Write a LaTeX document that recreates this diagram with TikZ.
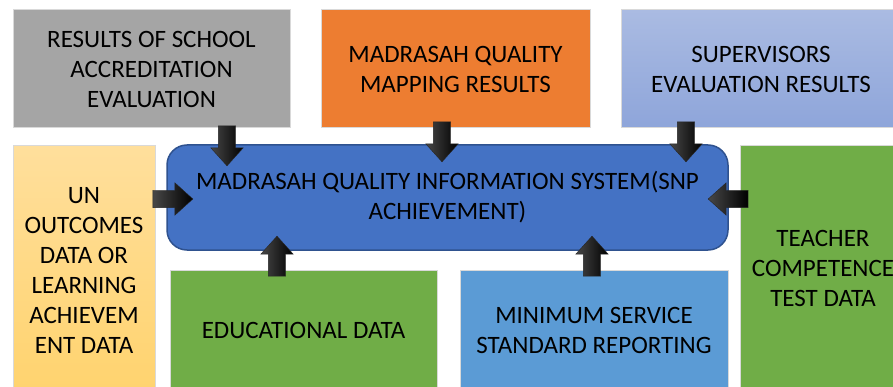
\documentclass[tikz,border=0pt]{standalone}
\usepackage{fontspec}
\setmainfont{Carlito}
\usetikzlibrary{shapes.arrows}
\definecolor{accgray}{HTML}{A5A5A5}
\definecolor{accorange}{HTML}{ED7D31}
\definecolor{supvtop}{HTML}{AABBE2}
\definecolor{supvbot}{HTML}{8EA5DA}
\definecolor{unoutop}{HTML}{FFDF9C}
\definecolor{unoubot}{HTML}{FFD36E}
\definecolor{sysblue}{HTML}{4472C4}
\definecolor{sysedge}{HTML}{2F528F}
\definecolor{accgreen}{HTML}{70AD47}
\definecolor{msblue}{HTML}{5B9BD5}
\begin{document}
\begin{tikzpicture}[x=1pt,y=-1pt,
  box/.style={rectangle, draw=black!15, line width=1, align=center, inner sep=0,
    font=\fontsize{25}{30}\selectfont},
  blockarrow/.style={single arrow, minimum height=40, minimum width=32,
    text height=8.5, text depth=8.5, text width=0,
    single arrow head extend=7.5, single arrow tip angle=84, inner sep=0,
    left color=black!72, middle color=black!97, right color=black,
    draw=black!85, line width=.4}]
\useasboundingbox (0,0) rectangle (893,387);
\clip (0,0) rectangle (893,387);
\node[box, fill=accgray, minimum width=277, minimum height=118] (accr) at (151.5,69)
  {RESULTS OF SCHOOL\\ACCREDITATION\\EVALUATION};
\node[box, fill=accorange, minimum width=269, minimum height=118] (mapp) at (455.5,69)
  {MADRASAH QUALITY\\MAPPING RESULTS};
\node[box, top color=supvtop, bottom color=supvbot, minimum width=280, minimum height=118] (supv) at (761,69)
  {SUPERVISORS\\EVALUATION RESULTS};
\node[box, top color=unoutop, bottom color=unoubot, minimum width=142, minimum height=248] (unout) at (84,270)
  {UN\\OUTCOMES\\DATA OR\\LEARNING\\ACHIEVEM\\ENT DATA};
\node[box, fill=accgreen, minimum width=267, minimum height=120] (educ) at (303.5,330)
  {EDUCATIONAL DATA};
\node[box, fill=msblue, minimum width=268, minimum height=120] (mss) at (594,330)
  {MINIMUM SERVICE\\STANDARD REPORTING};
\node[box, fill=accgreen, minimum width=166, minimum height=245] (tcomp) at (823,268)
  {TEACHER\\COMPETENCE\\TEST DATA};
\node[box, fill=sysblue, draw=sysedge, line width=1.5, rounded corners=20,
  minimum width=561, minimum height=105] (sys) at (447.5,197.5)
  {MADRASAH QUALITY INFORMATION SYSTEM(SNP\\ACHIEVEMENT)};
\foreach \x/\y/\r [count=\i] in {227/141/-90, 442/137/-90, 686/137/-90, 168/199/0,
    733/199/180, 277/261/90, 592/261/90}
{
    \node[blockarrow, rotate=\r] (arr\i) at (\x,\y) {};
}
\end{tikzpicture}
\end{document}
